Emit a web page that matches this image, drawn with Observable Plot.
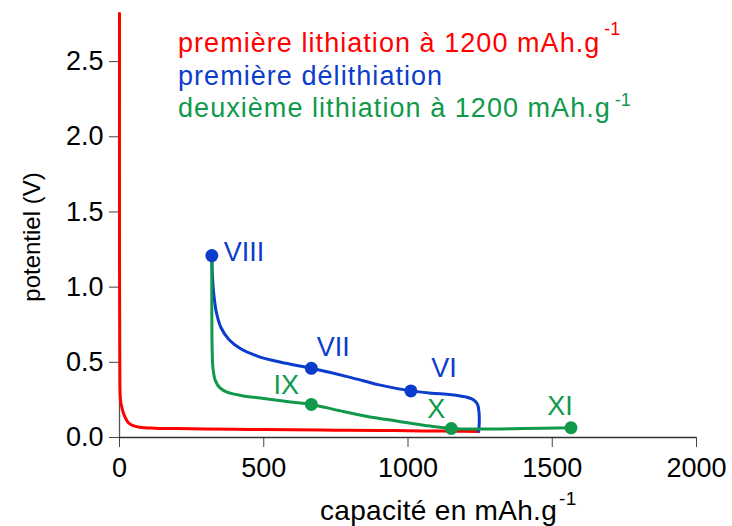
<!DOCTYPE html>
<html>
<head>
<meta charset="utf-8">
<script src="https://cdn.jsdelivr.net/npm/d3@7"></script>
<script src="https://cdn.jsdelivr.net/npm/@observablehq/plot@0.6"></script>
<style>
  body { margin: 0; background: #fff; }
  #chart svg { display: block; }
</style>
</head>
<body>
<div id="chart"></div>
<script>
// ---- data ----
const xTicks = [0, 500, 1000, 1500, 2000];
const yTicks = [0, 0.5, 1.0, 1.5, 2.0, 2.5];

// première lithiation à 1200 mAh/g (red)
const redX = [0, 0, 1, 3, 8, 18, 30, 45, 70, 120, 200, 300, 450, 600, 750, 900, 1050, 1150, 1245];
const redY = [2.82, 1.2, 0.5, 0.26, 0.2, 0.14, 0.1, 0.08, 0.068, 0.062, 0.06, 0.057, 0.054, 0.051, 0.049, 0.047, 0.044, 0.042, 0.04];

// première délithiation (blue)
const blueX = [1245, 1247, 1246, 1241, 1228, 1200, 1150, 1080, 1010, 900, 800, 665, 560, 480, 420, 380, 352, 336, 327, 322, 320];
const blueY = [0.04, 0.1, 0.17, 0.22, 0.25, 0.27, 0.285, 0.295, 0.31, 0.35, 0.4, 0.46, 0.5, 0.54, 0.59, 0.65, 0.73, 0.83, 0.95, 1.08, 1.21];

// deuxième lithiation à 1200 mAh/g (green)
const greenX = [320, 320, 321, 324, 332, 348, 375, 420, 500, 580, 665, 760, 860, 960, 1060, 1150, 1250, 1400, 1565];
const greenY = [1.21, 0.9, 0.6, 0.46, 0.38, 0.33, 0.3, 0.28, 0.26, 0.24, 0.22, 0.18, 0.14, 0.11, 0.08, 0.06, 0.056, 0.06, 0.065];

// labelled points
const pointNames = ["VIII", "VII", "VI", "IX", "X", "XI"];
const pointX = [320, 665, 1010, 665, 1150, 1565];
const pointY = [1.21, 0.46, 0.31, 0.22, 0.06, 0.065];
const pointSeries = ["blue", "blue", "blue", "green", "green", "green"];

const legendLines = ["première lithiation à 1200 mAh.g", "première délithiation", "deuxième lithiation à 1200 mAh.g"];
const legendSup = ["-1", "", "-1"];
const xTitle = "capacité en mAh.g";
const xTitleSup = "-1";
const yTitle = "potentiel (V)";

// ---- styles ----
const colors = {red: "#ff0000", blue: "#0b3ccb", green: "#10994b"};
const font = "'Liberation Sans', Arial, sans-serif";

const toRows = (xs, ys) => xs.map((x, i) => ({x, y: ys[i]}));
const red = toRows(redX, redY);
const blue = toRows(blueX, blueY);
const green = toRows(greenX, greenY);
const points = pointNames.map((name, i) => ({name, x: pointX[i], y: pointY[i], s: pointSeries[i]}));

// label offsets (style only)
const labelDx = {VIII: 12, VII: 22, VI: 33, IX: -25, X: -15, XI: -11};
const labelDy = {VIII: -3, VII: -21, VI: -23, IX: -19, X: -19, XI: -21};

const labelMarks = points.map(p => Plot.text([p], {
  x: "x", y: "y", text: "name",
  fill: colors[p.s], fontSize: 27,
  textAnchor: p.name === "VIII" ? "start" : "middle",
  dx: labelDx[p.name], dy: labelDy[p.name]
}));

const svg = Plot.plot({
  width: 732,
  height: 526,
  marginLeft: 119,
  marginRight: 36,
  marginTop: 13,
  marginBottom: 89,
  style: {fontFamily: font, background: "#fff", overflow: "visible"},
  x: {domain: [0, 2000]},
  y: {domain: [0, 2.82]},
  marks: [
    Plot.axisX({ticks: xTicks, tickSize: 10, tickPadding: 10, fontSize: 27, label: null, stroke: "#444", fill: "#000", tickFormat: d => String(d)}),
    Plot.axisY({ticks: yTicks, tickSize: 10, tickPadding: 6, fontSize: 27, label: null, stroke: "#444", fill: "#000", tickFormat: d => d.toFixed(1)}),
    Plot.ruleY([0], {stroke: "#333", strokeWidth: 1.3}),
    Plot.ruleX([0], {stroke: "#555", strokeWidth: 1.3}),
    Plot.line(red, {x: "x", y: "y", stroke: colors.red, strokeWidth: 3, curve: "catmull-rom"}),
    Plot.line(blue, {x: "x", y: "y", stroke: colors.blue, strokeWidth: 3, curve: "catmull-rom"}),
    Plot.line(green, {x: "x", y: "y", stroke: colors.green, strokeWidth: 3, curve: "catmull-rom"}),
    Plot.dot(points, {x: "x", y: "y", r: 6.5, fill: d => colors[d.s], stroke: "none"}),
    ...labelMarks
  ]
});

const s = d3.select(svg);

// legend
const legendColors = [colors.red, colors.blue, colors.green];
const legendBase = [52, 85, 117];
const supBase = [35, 0, 106];
legendLines.forEach((t, i) => {
  const txt = s.append("text")
    .attr("x", 178).attr("y", legendBase[i])
    .attr("text-anchor", "start")
    .attr("fill", legendColors[i])
    .attr("font-family", font).attr("font-size", 27)
    .attr("letter-spacing", 1.05)
    .text(t);
  if (legendSup[i]) {
    txt.append("tspan")
      .attr("dx", 4).attr("y", supBase[i])
      .attr("font-size", 18)
      .attr("letter-spacing", 0)
      .text(legendSup[i]);
  }
});

// x title
const xt = s.append("text")
  .attr("x", 320).attr("y", 520)
  .attr("text-anchor", "start")
  .attr("fill", "#000").attr("font-family", font).attr("font-size", 28)
  .attr("letter-spacing", 0.3)
  .text(xTitle);
xt.append("tspan").attr("dx", 2).attr("y", 505).attr("font-size", 19).text(xTitleSup);

// y title
s.append("text")
  .attr("transform", "translate(40,237) rotate(-90)")
  .attr("text-anchor", "middle")
  .attr("fill", "#000").attr("font-family", font).attr("font-size", 24)
  .text(yTitle);

document.getElementById("chart").appendChild(svg);
</script>
</body>
</html>
